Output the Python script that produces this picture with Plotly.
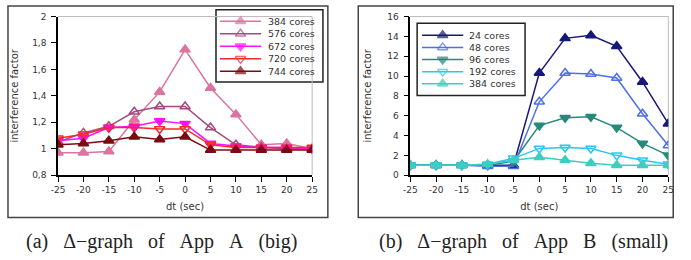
import plotly.graph_objects as go

dt = [-25, -20, -15, -10, -5, 0, 5, 10, 15, 20, 25]
xticktext = ["-25", "-20", "-15", "-10", "-5", "0", "5", "10", "15", "20", "25"]

# Panel A (App A, big)
a_names = ["384 cores", "576 cores", "672 cores", "720 cores", "744 cores"]
a_384 = [0.97, 0.97, 0.98, 1.22, 1.43, 1.75, 1.46, 1.26, 1.03, 1.04, 1.00]
a_576 = [1.05, 1.12, 1.17, 1.28, 1.32, 1.32, 1.16, 1.03, 1.01, 1.00, 1.00]
a_672 = [1.06, 1.08, 1.16, 1.17, 1.21, 1.19, 1.04, 1.02, 1.01, 1.01, 1.00]
a_720 = [1.08, 1.11, 1.16, 1.16, 1.15, 1.15, 1.03, 1.01, 1.01, 1.01, 1.01]
a_744 = [1.03, 1.04, 1.06, 1.09, 1.07, 1.09, 0.99, 0.99, 0.99, 0.99, 0.99]

# Panel B (App B, small)
b_names = ["24 cores", "48 cores", "96 cores", "192 cores", "384 cores"]
b_24 = [1.0, 1.0, 1.0, 1.0, 1.0, 10.3, 13.8, 14.1, 13.0, 9.4, 5.2]
b_48 = [1.0, 1.0, 1.0, 0.9, 0.9, 7.4, 10.3, 10.2, 9.8, 6.2, 3.0]
b_96 = [1.0, 1.0, 1.0, 1.0, 1.4, 5.0, 5.8, 5.9, 4.8, 3.2, 2.0]
b_192 = [1.0, 1.0, 1.0, 1.1, 1.7, 2.7, 2.8, 2.7, 2.0, 1.5, 1.1]
b_384 = [1.0, 1.0, 1.0, 1.1, 1.5, 1.8, 1.5, 1.2, 1.0, 1.0, 1.0]

a_yticks = [0.8, 1.0, 1.2, 1.4, 1.6, 1.8, 2.0]
a_yticktext = ["0,8", "1", "1,2", "1,4", "1,6", "1,8", "2"]
b_yticks = [0, 2, 4, 6, 8, 10, 12, 14, 16]

a_colors = ["#dc74a0", "#a14a7f", "#ff10ff", "#f42a2a", "#7d0a10"]
b_colors = ["#16197a", "#4d6fe8", "#258a7a", "#28c8f0", "#3ccfc0"]
symbols = ["triangle-up", "triangle-up-open", "triangle-down", "triangle-down-open", "triangle-up"]

W, H = 691, 260
def px(x): return x / W
def py(y): return 1 - y / H

fig = go.Figure()
for name, ys, c, s in zip(a_names, [a_384, a_576, a_672, a_720, a_744], a_colors, symbols):
    fig.add_trace(go.Scatter(x=dt, y=ys, name=name, mode="lines+markers", showlegend=False,
                             line=dict(color=c, width=1.5),
                             marker=dict(symbol=s, size=9, color=c, line=dict(color=c, width=1.5)),
                             xaxis="x", yaxis="y"))
for name, ys, c, s in zip(b_names, [b_24, b_48, b_96, b_192, b_384], b_colors, symbols):
    fig.add_trace(go.Scatter(x=dt, y=ys, name=name, mode="lines+markers", showlegend=False,
                             line=dict(color=c, width=1.5),
                             marker=dict(symbol=s, size=9, color=c, line=dict(color=c, width=1.5)),
                             xaxis="x2", yaxis="y2"))

# Custom compact legends on a pixel-space overlay axis (x3/y3)
leg_font = dict(family="DejaVu Sans", size=9.5, color="#333")
legends = [
    # names, colors, box (x0, y0, x1, y1), sample x0, x1, first row y, row step, text x
    (a_names, a_colors, (213, 5, 322, 80), 217, 259, 17, 13, 264),
    (b_names, b_colors, (418, 19, 528, 94), 423, 465, 31.5, 12.6, 469),
]
shapes = []
annotations = []
for names, colors, box, sx0, sx1, ry0, rstep, tx in legends:
    shapes.append(dict(type="rect", xref="paper", yref="paper", x0=px(box[0]), x1=px(box[2]),
                       y0=py(box[3]), y1=py(box[1]), line=dict(color="#222", width=1.5),
                       fillcolor="white", layer="below"))
    for i, (n, c, s) in enumerate(zip(names, colors, symbols)):
        ry = ry0 + i * rstep
        fig.add_trace(go.Scatter(x=[sx0, (sx0 + sx1) / 2, sx1], y=[ry, ry, ry], mode="lines+markers",
                                 showlegend=False, hoverinfo="skip",
                                 line=dict(color=c, width=1.5),
                                 marker=dict(symbol=s, size=[0, 9, 0], color=c, line=dict(color=c, width=1.5)),
                                 xaxis="x3", yaxis="y3"))
        annotations.append(dict(text=n, x=px(tx), y=py(ry), xref="paper", yref="paper", showarrow=False,
                                xanchor="left", yanchor="middle", font=leg_font))

tick_font = dict(family="DejaVu Sans", size=9, color="#333")
title_font = dict(family="DejaVu Sans", size=10, color="#333")
axcommon = dict(showgrid=False, zeroline=False, showline=True, linecolor="black", linewidth=1.5,
                ticks="outside", ticklen=5, tickcolor="black", tickfont=tick_font)

fig.update_layout(
    width=W, height=H, margin=dict(l=0, r=0, t=0, b=0),
    paper_bgcolor="white", plot_bgcolor="rgba(0,0,0,0)", showlegend=False,
    xaxis=dict(domain=[px(52), px(311)], range=[-25, 25], tickvals=dt, ticktext=xticktext, anchor="y",
               title=dict(text="dt (sec)", font=title_font, standoff=9), **axcommon),
    yaxis=dict(domain=[py(177), py(12)], range=[0.8, 2.0], tickvals=a_yticks, ticktext=a_yticktext, anchor="x",
               ticklabelstandoff=3,
               title=dict(text="interference factor", font=title_font, standoff=12), **axcommon),
    xaxis2=dict(domain=[px(411), px(674)], range=[-25, 25], tickvals=dt, ticktext=xticktext, anchor="y2",
                title=dict(text="dt (sec)", font=title_font, standoff=9), **axcommon),
    yaxis2=dict(domain=[py(177), py(12)], range=[0, 16], tickvals=b_yticks, anchor="x2",
                ticklabelstandoff=3,
                title=dict(text="interference factor", font=title_font, standoff=14), **axcommon),
    xaxis3=dict(domain=[0, 1], range=[0, W], visible=False, anchor="y3", fixedrange=True),
    yaxis3=dict(domain=[0, 1], range=[H, 0], visible=False, anchor="x3", fixedrange=True),
)

# gray frame top/right of plot areas
for (x0, x1) in [(52, 311), (411, 674)]:
    shapes.append(dict(type="line", xref="paper", yref="paper", x0=px(x0), x1=px(x1), y0=py(12), y1=py(12),
                       line=dict(color="#bbbbbb", width=1), layer="below"))
    shapes.append(dict(type="line", xref="paper", yref="paper", x0=px(x1), x1=px(x1), y0=py(12), y1=py(177),
                       line=dict(color="#bbbbbb", width=1), layer="below"))
# outer boxes
for (x0, x1) in [(1, 327), (358, 679)]:
    shapes.append(dict(type="rect", xref="paper", yref="paper", x0=px(x0), x1=px(x1), y0=py(221), y1=py(1),
                       line=dict(color="#444", width=1.5), fillcolor="rgba(0,0,0,0)", layer="below"))

cap_font = dict(family="Liberation Serif", size=20, color="#222")
sp = "\u00a0\u00a0\u00a0"
annotations.append(dict(text=f"(a){sp}\u0394\u2212graph{sp}of{sp}App{sp}A{sp}(big)", x=px(157), y=py(246),
                        xref="paper", yref="paper", showarrow=False, font=cap_font,
                        xanchor="center", yanchor="middle"))
annotations.append(dict(text=f"(b){sp}\u0394\u2212graph{sp}of{sp}App{sp}B{sp}(small)", x=px(526), y=py(246),
                        xref="paper", yref="paper", showarrow=False, font=cap_font,
                        xanchor="center", yanchor="middle"))
fig.update_layout(shapes=shapes, annotations=annotations)

fig.write_html("out.html")
